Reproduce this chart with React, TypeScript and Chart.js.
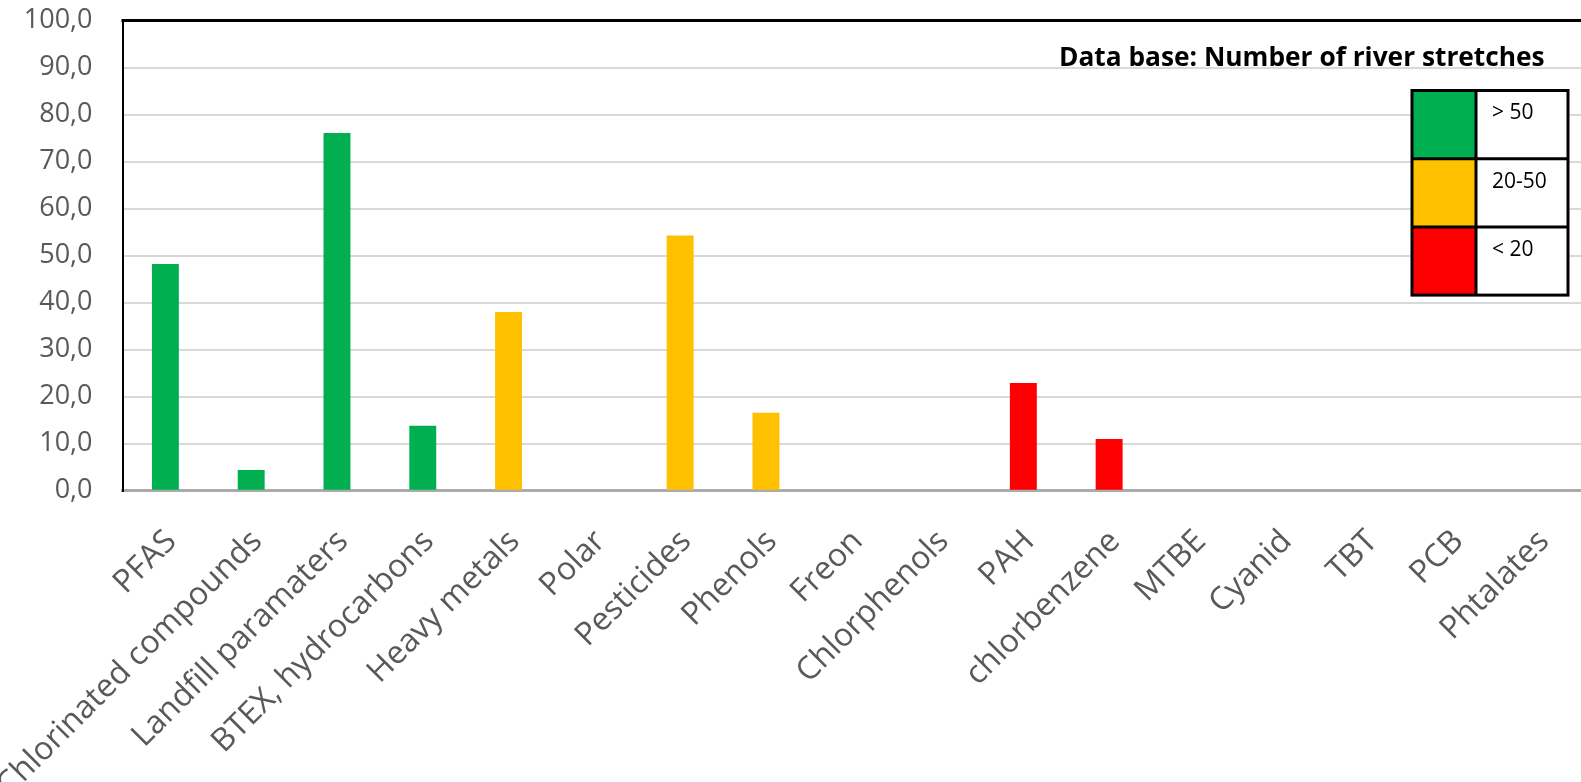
import React, { useEffect, useRef } from 'react';
import { Chart, registerables } from 'chart.js';

Chart.register(...registerables);

const categories = [
  'PFAS',
  'Chlorinated compounds',
  'Landfill paramaters',
  'BTEX, hydrocarbons',
  'Heavy metals',
  'Polar',
  'Pesticides',
  'Phenols',
  'Freon',
  'Chlorphenols',
  'PAH',
  'chlorbenzene',
  'MTBE',
  'Cyanid',
  'TBT',
  'PCB',
  'Phtalates',
];
const values = [48.2, 4.4, 76.1, 13.8, 38.0, 0, 54.3, 16.6, 0, 0, 22.9, 11.0, 0, 0, 0, 0, 0];
// data base group per category: 0 = "> 50", 1 = "20-50", 2 = "< 20"
const dataBaseGroup = [0, 0, 0, 0, 1, 1, 1, 1, 1, 2, 2, 2, 2, 2, 2, 2, 2];

const legendLabels = ['> 50', '20-50', '< 20'];
const legendColors = ['#00B050', '#FFC000', '#FF0000'];
const legendTitle = 'Data base: Number of river stretches';

const yTickLabels = ['0,0', '10,0', '20,0', '30,0', '40,0', '50,0', '60,0', '70,0', '80,0', '90,0', '100,0'];

const FONT = '"Open Sans", "DejaVu Sans", sans-serif';

const overlayPlugin = {
  id: 'overlay',
  afterDraw(chart: any) {
    const ctx = chart.ctx as CanvasRenderingContext2D;
    const a = chart.chartArea;
    ctx.save();
    // top border of plot area
    ctx.strokeStyle = '#000';
    ctx.lineWidth = 3;
    ctx.beginPath();
    ctx.moveTo(a.left - 1, a.top);
    ctx.lineTo(chart.width, a.top);
    ctx.stroke();

    // title, sized to span its box
    const titleLeft = 1059;
    const titleRight = 1545;
    ctx.font = `bold 20px ${FONT}`;
    const w20 = ctx.measureText(legendTitle).width;
    const size = (20 * (titleRight - titleLeft)) / w20;
    ctx.font = `bold ${size.toFixed(2)}px ${FONT}`;
    ctx.fillStyle = '#000';
    ctx.textAlign = 'left';
    ctx.textBaseline = 'alphabetic';
    ctx.fillText(legendTitle, titleLeft, 66);

    // legend table
    const x0 = 1412;
    const cw = 64;
    const lw = 92;
    const y0 = 90.5;
    const rh = 68.2;
    legendLabels.forEach((lab, i) => {
      const y = y0 + i * rh;
      ctx.fillStyle = legendColors[i];
      ctx.fillRect(x0, y, cw, rh);
      ctx.fillStyle = '#fff';
      ctx.fillRect(x0 + cw, y, lw, rh);
      ctx.fillStyle = '#000';
      ctx.font = `21px ${FONT}`;
      ctx.textAlign = 'left';
      ctx.textBaseline = 'middle';
      ctx.fillText(lab, x0 + cw + 16, y + 23);
    });
    ctx.strokeStyle = '#000';
    ctx.lineWidth = 3;
    ctx.strokeRect(x0, y0, cw + lw, rh * 3);
    ctx.beginPath();
    ctx.moveTo(x0 + cw, y0);
    ctx.lineTo(x0 + cw, y0 + rh * 3);
    for (let i = 1; i < 3; i++) {
      ctx.moveTo(x0, y0 + i * rh);
      ctx.lineTo(x0 + cw + lw, y0 + i * rh);
    }
    ctx.stroke();
    ctx.restore();
  },
};

export default function App() {
  const ref = useRef<HTMLCanvasElement>(null);

  useEffect(() => {
    if (!ref.current) return;
    const chart = new Chart(ref.current, {
      type: 'bar',
      data: {
        labels: categories,
        datasets: [
          {
            data: values,
            backgroundColor: dataBaseGroup.map((g) => legendColors[g]),
            borderWidth: 0,
            categoryPercentage: 1,
            barPercentage: 0.314,
          },
        ],
      },
      options: {
        responsive: false,
        animation: false,
        devicePixelRatio: 1,
        layout: { padding: { top: 20.5, right: -3.5, bottom: 0, left: 0 } },
        plugins: {
          legend: { display: false },
          tooltip: { enabled: false },
        },
        scales: {
          x: {
            grid: { display: false, drawTicks: false },
            border: { display: true, color: '#ababab', width: 3 },
            ticks: {
              autoSkip: false,
              maxRotation: 45,
              minRotation: 45,
              padding: 32,
              labelOffset: 6,
              color: '#595959',
              font: { family: FONT, size: 32 },
            },
            afterFit(scale: any) {
              scale.height = 291.3;
              scale.paddingLeft = 0;
              scale.paddingRight = 0;
            },
          },
          y: {
            min: 0,
            max: 100,
            grid: { color: '#d9d9d9', lineWidth: 2, drawTicks: false },
            border: { display: true, color: '#000', width: 2 },
            ticks: {
              stepSize: 10,
              padding: 30,
              color: '#595959',
              font: { family: FONT, size: 27 },
              callback: (_v: any, i: number) => yTickLabels[i],
            },
            afterFit(scale: any) {
              scale.width = 122.5;
              scale.paddingTop = 0;
              scale.paddingBottom = 0;
            },
          },
        },
      },
      plugins: [overlayPlugin],
    } as any);
    return () => chart.destroy();
  }, []);

  return (
    <div style={{ position: 'fixed', left: 0, top: 0, width: 1581, height: 782, overflow: 'hidden', background: '#fff' }}>
      <canvas ref={ref} width={1581} height={782} style={{ display: 'block', width: 1581, height: 782 }} />
    </div>
  );
}
